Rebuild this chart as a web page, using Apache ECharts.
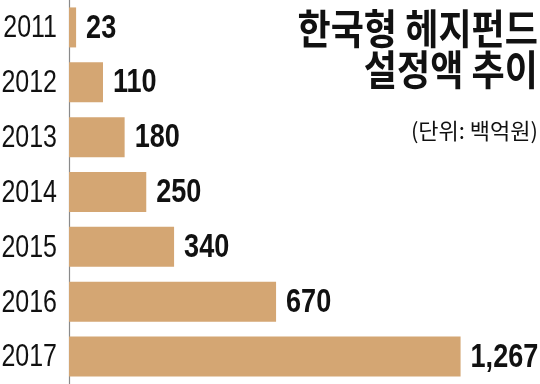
<!DOCTYPE html>
<html><head><meta charset="utf-8">
<script src="https://cdn.jsdelivr.net/npm/echarts@6/dist/echarts.min.js"></script>
<style>html,body{margin:0;padding:0;background:#fff}#c{width:540px;height:384px}</style>
</head><body><div id="c"></div>
<script>
const years = ['2011','2012','2013','2014','2015','2016','2017'];
const values = [23, 110, 180, 250, 340, 670, 1267];
const titleLines = ['한국형 헤지펀드', '설정액 추이'];
const unitText = '(단위: 백억원)';

const chart = echarts.init(document.getElementById('c'), null, {renderer: 'canvas'});
const numFont = "'Liberation Sans',Arial,sans-serif";
const krFont = "'Noto Sans CJK KR','Noto Sans CJK SC',sans-serif";
const data = values.map((v, i) => [v, i]);

chart.setOption({
  animation: false,
  backgroundColor: '#fff',
  grid: {left: 69, right: 0, top: 0, bottom: 0, containLabel: false, outerBoundsMode: 'none'},
  xAxis: {type: 'value', min: 0, max: 1524, show: false},
  yAxis: {
    type: 'category', data: years, inverse: true,
    axisLine: {show: true, lineStyle: {color: '#8a8a8a', width: 1.2}},
    axisTick: {show: false},
    axisLabel: {show: false}
  },
  series: [
    {
      type: 'bar', data: values, barWidth: 40,
      itemStyle: {color: '#D4A673'},
      label: {show: false}
    },
    {
      // year labels (category axis text, horizontally condensed)
      type: 'custom', data: data, silent: true,
      renderItem: (params, api) => {
        const p = api.coord([0, api.value(1)]);
        return {
          type: 'text', x: p[0] - 12, y: p[1] + 1, scaleX: 0.78,
          style: {text: years[api.value(1)], font: "32px " + numFont, fill: '#111',
                  textAlign: 'right', textVerticalAlign: 'middle'}
        };
      }
    },
    {
      // value labels
      type: 'custom', data: data, silent: true,
      renderItem: (params, api) => {
        const p = api.coord([api.value(0), api.value(1)]);
        return {
          type: 'text', x: p[0] + 10, y: p[1] + 1, scaleX: 0.82,
          style: {text: api.value(0).toLocaleString('en-US'), font: "bold 33px " + numFont, fill: '#111',
                  textAlign: 'left', textVerticalAlign: 'middle'}
        };
      }
    }
  ],
  graphic: [
    {type: 'text', x: 538, y: 28, scaleX: 0.88,
     style: {text: titleLines[0], font: "bold 41px " + krFont, fill: '#111', textAlign: 'right', textVerticalAlign: 'middle'}},
    {type: 'text', x: 538, y: 69, scaleX: 0.88,
     style: {text: titleLines[1], font: "bold 41px " + krFont, fill: '#111', textAlign: 'right', textVerticalAlign: 'middle'}},
    {type: 'text', x: 538, y: 131,
     style: {text: unitText, font: "22px " + krFont, fill: '#111', textAlign: 'right', textVerticalAlign: 'middle'}}
  ]
});
</script></body></html>
